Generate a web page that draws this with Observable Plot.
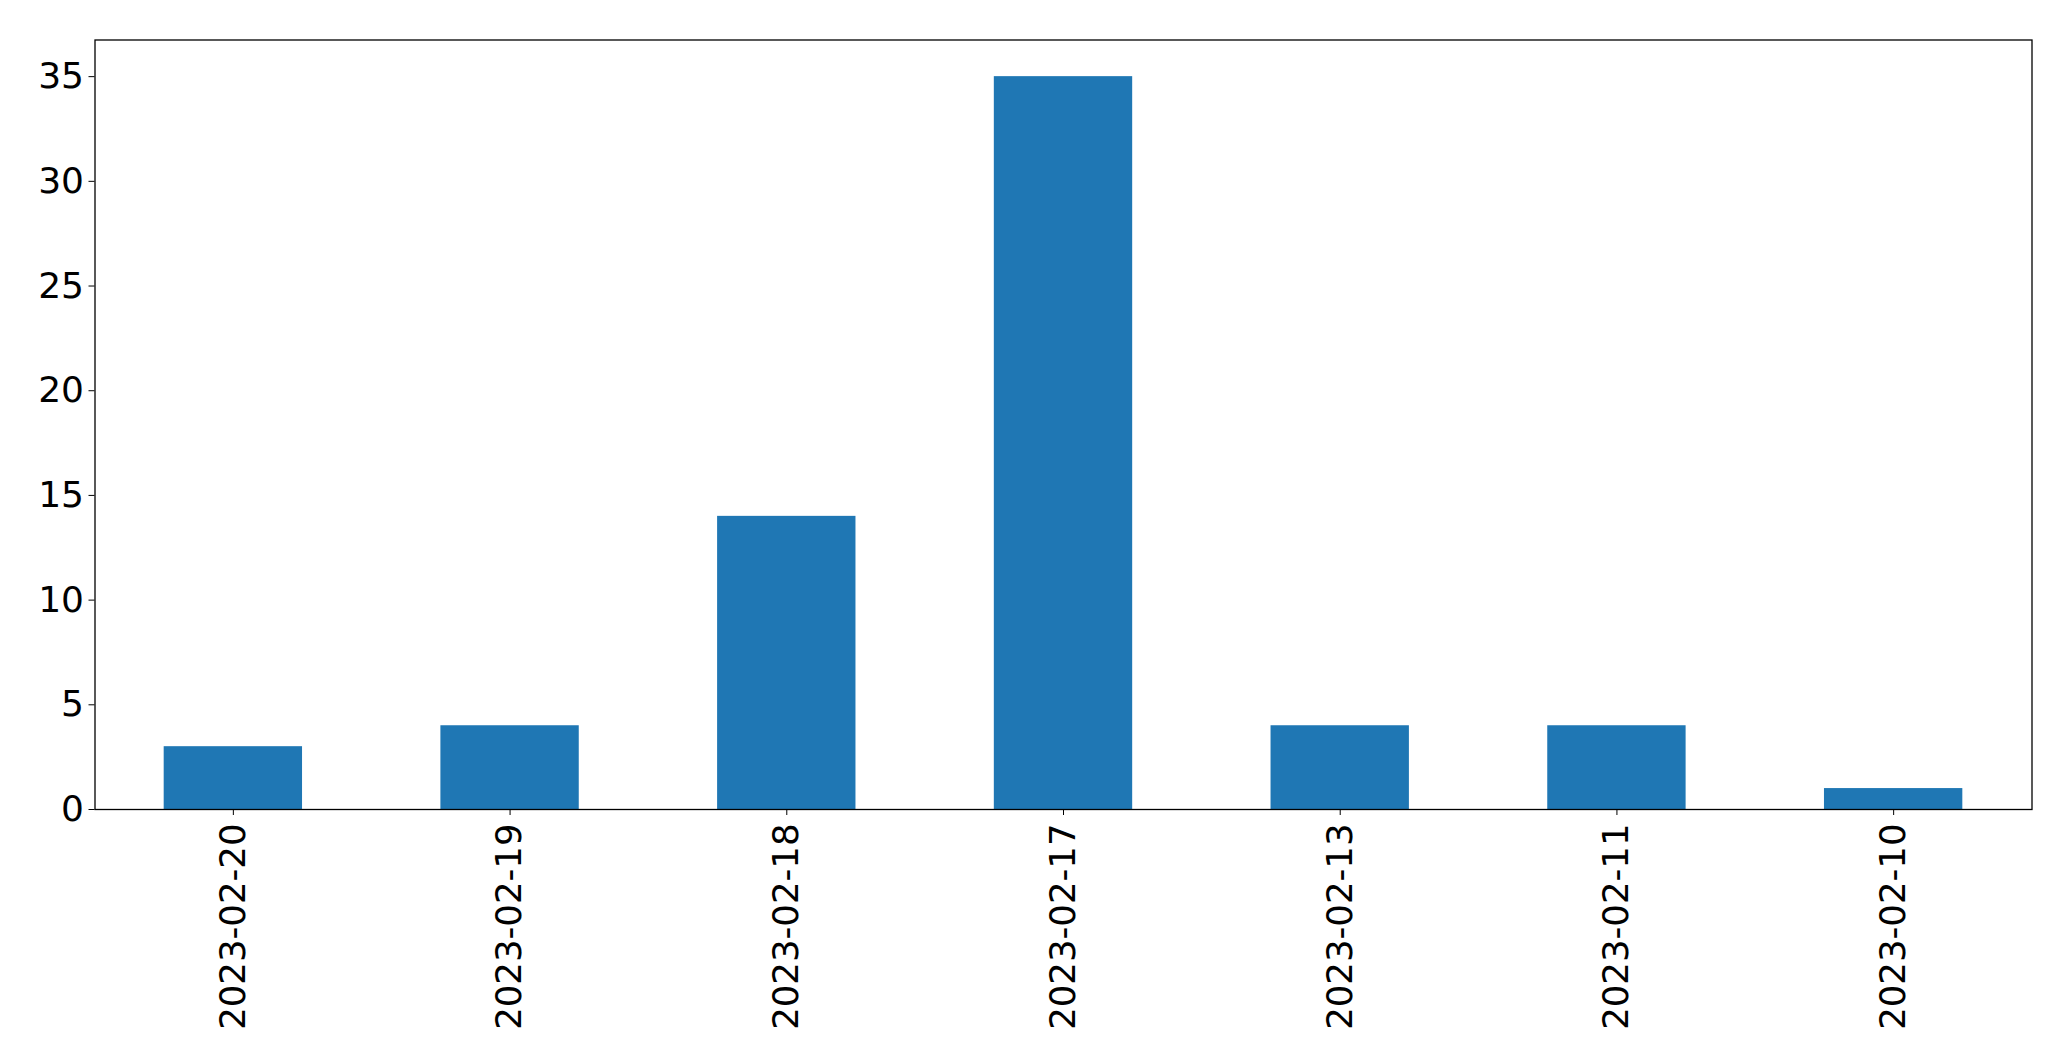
<!DOCTYPE html>
<html>
<head>
<meta charset="utf-8">
<script src="https://cdn.jsdelivr.net/npm/d3@7"></script>
<script src="https://cdn.jsdelivr.net/npm/@observablehq/plot@0.6"></script>
<style>
  html, body { margin: 0; padding: 0; background: #fff; }
  svg { display: block; }
</style>
</head>
<body>
<div id="chart"></div>
<script>
const dates = ["2023-02-20", "2023-02-19", "2023-02-18", "2023-02-17", "2023-02-13", "2023-02-11", "2023-02-10"];
const counts = [3, 4, 14, 35, 4, 4, 1];
const yTicks = [0, 5, 10, 15, 20, 25, 30, 35];

const data = dates.map((d, i) => ({date: d, count: counts[i]}));

const chart = Plot.plot({
  width: 2071,
  height: 1061,
  marginLeft: 94.5,
  marginRight: 39.5,
  marginTop: 39.5,
  marginBottom: 252,
  style: {fontFamily: "DejaVu Sans", fontSize: "35px", color: "#000", background: "#fff"},
  x: {domain: dates, paddingInner: 0.5, paddingOuter: 0.25, round: false, label: null},
  y: {domain: [0, 36.75], label: null},
  marks: [
    Plot.barY(data, {x: "date", y: "count", fill: "#1f77b4"}),
    Plot.axisY({ticks: yTicks, tickSize: 6, tickPadding: 5, label: null, fontSize: 36}),
    Plot.axisX({tickSize: 6, tickPadding: 8, tickRotate: -90, label: null, fontSize: 35.5}),
    Plot.frame({stroke: "#000", strokeWidth: 1.3})
  ]
});
document.getElementById("chart").appendChild(chart);
</script>
</body>
</html>
